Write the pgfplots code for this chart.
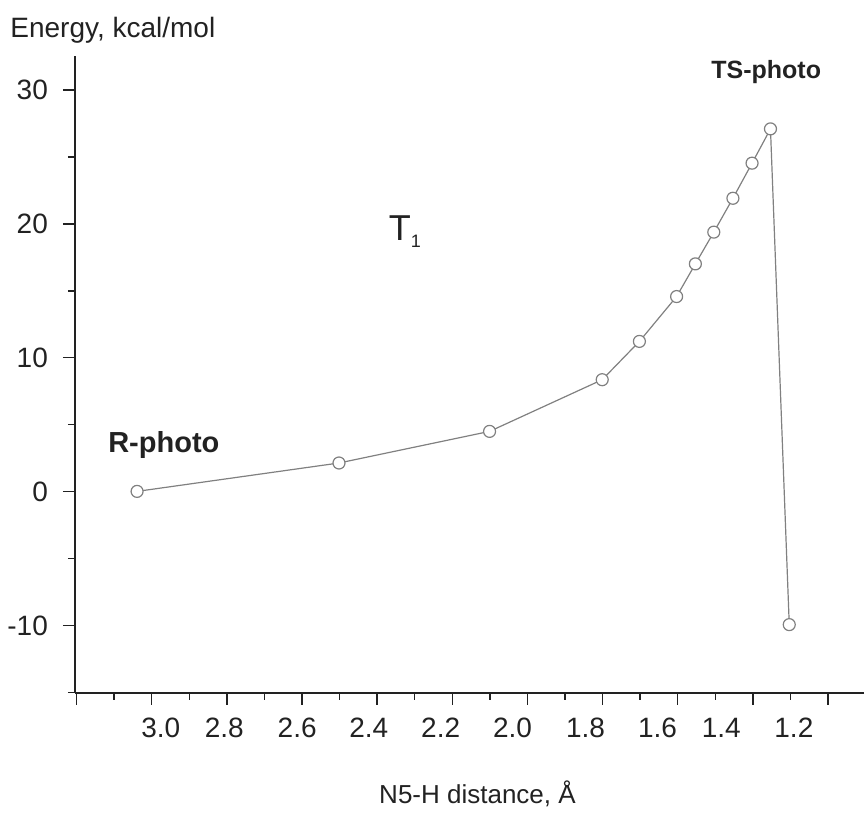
\documentclass[border=0pt]{standalone}
\usepackage{pgfplots}
\pgfplotsset{compat=1.18}
\usepackage{fontspec}
\setmainfont{Liberation Sans}
\definecolor{txt}{HTML}{222222}
\definecolor{ln}{HTML}{808080}
\begin{document}
\begin{tikzpicture}
\begin{axis}[
  scale only axis, width=394.5pt, height=318pt,
  x dir=reverse, xmin=1.0, xmax=3.2275, ymin=-15, ymax=32.5,
  axis lines=left, axis line style={-, line width=1pt, txt},
  clip=false,
  xtick={3.2227,3.0106,2.7985,2.5864,2.3743,2.1622,1.9501,1.7380,1.5259,1.3138,1.1017},
  xticklabels={},
  minor xtick={3.11665,2.90455,2.69245,2.48035,2.26825,2.05615,1.84405,1.63195,1.41985,1.20775},
  extra x ticks={2.985,2.806,2.6,2.398,2.195,1.992,1.786,1.583,1.403,1.198},
  extra x tick labels={3.0,2.8,2.6,2.4,2.2,2.0,1.8,1.6,1.4,1.2},
  extra x tick style={major tick length=0pt, xticklabel style={yshift=-9pt, text height=10pt, text depth=0pt}},
  ytick={-10,0,10,20,30}, minor ytick={-15,-5,5,15,25},
  yticklabel style={xshift=-4pt},
  tick align=outside, major tick length=6pt, minor tick length=3.5pt,
  every tick/.style={line width=0.75pt, txt},
  tick label style={font=\fontsize{14}{16}\selectfont, text=txt},
  /pgf/number format/assume math mode=true,
]
\addplot[color=ln, line width=0.6pt, mark=*, mark size=3pt,
  mark options={fill=white, draw=ln, line width=0.6pt}] coordinates {
  (3.052,0.02) (2.482,2.14) (2.057,4.50) (1.739,8.36) (1.634,11.22)
  (1.529,14.57) (1.476,17.01) (1.424,19.38) (1.370,21.91) (1.316,24.53)
  (1.264,27.09) (1.211,-9.93)
};
\node[anchor=base west, inner sep=0pt, text=txt, font=\fontsize{14}{16}\selectfont] at (axis cs:3.4108,33.88) {Energy, kcal/mol};
\node[text=txt, font=\bfseries\fontsize{12.5}{15}\selectfont] at (axis cs:1.276,31.3) {TS-photo};
\node[anchor=base west, inner sep=0pt, text=txt, font=\bfseries\fontsize{14.5}{17}\selectfont] at (axis cs:3.1344,2.89) {R-photo};
\node[anchor=base west, inner sep=0pt, text=txt, font=\fontsize{18}{20}\selectfont] at (axis cs:2.342,18.75) {T\raisebox{-3.5pt}{\fontsize{9}{10}\selectfont 1}};
\node[text=txt, font=\fontsize{13}{15}\selectfont] at (axis cs:2.091,-22.6) {N5-H distance, Å};
\path (axis cs:3.439,36.716) rectangle (axis cs:1.0,-23.88);
\end{axis}
\end{tikzpicture}
\end{document}
